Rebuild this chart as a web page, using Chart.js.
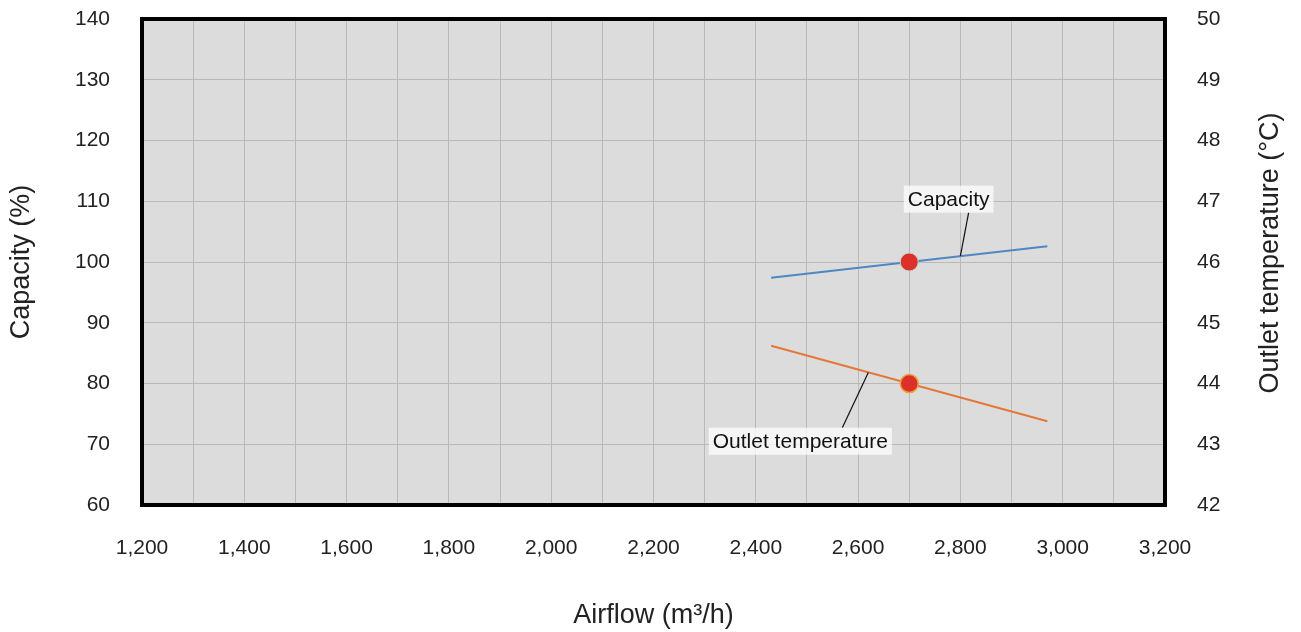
<!DOCTYPE html>
<html>
<head>
<meta charset="utf-8">
<script src="https://cdn.jsdelivr.net/npm/chart.js@4/dist/chart.umd.min.js"></script>
<style>
  html, body { margin: 0; padding: 0; background: #fff; }
  #wrap { width: 1301px; height: 632px; }
</style>
</head>
<body>
<div id="wrap"><canvas id="chart" width="1301" height="632"></canvas></div>
<script>
// values
const airflow = [2430, 2700, 2970];
const capacity = [97.4, 100, 102.6];
const outletTemp = [44.62, 44.0, 43.38];

const opAirflow = 2700;
const opCapacity = 100;
const opTemp = 44.0;

const xTicks = [1200, 1400, 1600, 1800, 2000, 2200, 2400, 2600, 2800, 3000, 3200];

// callout labels: label centre and anchor on the line, in data units
const callouts = [
  { text: "Capacity", axis: "y", lx: 2777, ly: 110.35, ax: 2800, ay: 101.0, dx: 20, edge: "bottom" },
  { text: "Outlet temperature", axis: "y1", lx: 2487, ly: 43.05, ax: 2620, ay: 44.18, dx: 42, edge: "top" },
];

const FONT = "Arial, 'Liberation Sans', sans-serif";
const TEXT = "#222";

const frame = {
  id: "frame",
  beforeDraw(chart) {
    // plot background; grid is drawn on top of it by the scales
    const a = chart.chartArea, c = chart.ctx;
    c.save();
    c.fillStyle = "#dcdcdc";
    c.fillRect(a.left, a.top, a.right - a.left, a.bottom - a.top);
    c.restore();
  },
  afterDraw(chart) {
    const a = chart.chartArea, c = chart.ctx;
    c.save();
    c.strokeStyle = "#000";
    c.lineWidth = 4;
    c.strokeRect(a.left, a.top, a.right - a.left, a.bottom - a.top);

    // right axis title reads bottom-to-top
    c.translate(1271, 253);
    c.rotate(-Math.PI / 2);
    c.font = "27px " + FONT;
    c.fillStyle = TEXT;
    c.textAlign = "center";
    c.textBaseline = "middle";
    c.fillText("Outlet temperature (°C)", 0, 0);
    c.restore();

    // callouts
    const xs = chart.scales.x;
    c.save();
    c.font = "21px " + FONT;
    callouts.forEach(o => {
      const ys = chart.scales[o.axis];
      const cx = xs.getPixelForValue(o.lx), cy = ys.getPixelForValue(o.ly);
      const px = xs.getPixelForValue(o.ax), py = ys.getPixelForValue(o.ay);
      const w = c.measureText(o.text).width + 8, h = 27;
      const sy = o.edge === "bottom" ? cy + h / 2 : cy - h / 2;
      c.strokeStyle = "#111";
      c.lineWidth = 1.2;
      c.beginPath();
      c.moveTo(cx + o.dx, sy);
      c.lineTo(px, py);
      c.stroke();
      c.fillStyle = "rgba(255,255,255,0.72)";
      c.fillRect(cx - w / 2, cy - h / 2, w, h);
      c.fillStyle = "#111";
      c.textAlign = "center";
      c.textBaseline = "middle";
      c.fillText(o.text, cx, cy + 1);
    });
    c.restore();
  }
};

new Chart(document.getElementById("chart"), {
  type: "scatter",
  data: {
    datasets: [
      {
        label: "Capacity point",
        data: [{ x: opAirflow, y: opCapacity }],
        yAxisID: "y",
        backgroundColor: "#dc3128",
        borderColor: "#c9c9c9",
        borderWidth: 1,
        pointRadius: 9,
        order: 0,
      },
      {
        label: "Temperature point",
        data: [{ x: opAirflow, y: opTemp }],
        yAxisID: "y1",
        backgroundColor: "#dc3128",
        borderColor: "#eda23c",
        borderWidth: 1.5,
        pointRadius: 9,
        order: 0,
      },
      {
        label: "Capacity",
        data: airflow.map((x, i) => ({ x, y: capacity[i] })),
        yAxisID: "y",
        showLine: true,
        borderColor: "#4f87c2",
        borderWidth: 2,
        pointRadius: 0,
        order: 1,
      },
      {
        label: "Outlet temperature",
        data: airflow.map((x, i) => ({ x, y: outletTemp[i] })),
        yAxisID: "y1",
        showLine: true,
        borderColor: "#e4783a",
        borderWidth: 2,
        pointRadius: 0,
        order: 1,
      },
    ],
  },
  options: {
    responsive: false,
    animation: false,
    devicePixelRatio: 1,
    layout: { padding: { top: 19, left: 0, right: 0, bottom: 0 } },
    plugins: {
      legend: { display: false },
      tooltip: { enabled: false },
    },
    scales: {
      x: {
        type: "linear",
        min: 1200,
        max: 3200,
        afterFit: s => { s.height = 127; s.paddingLeft = 0; s.paddingRight = 0; },
        afterBuildTicks: s => { s.ticks = []; for (let v = 1200; v <= 3200; v += 100) s.ticks.push({ value: v }); },
        grid: { color: "#b9b9b9", lineWidth: 1, drawTicks: false },
        border: { display: false },
        ticks: {
          padding: 31,
          color: TEXT,
          font: { size: 21, family: FONT },
          maxRotation: 0,
          autoSkip: false,
          callback: v => xTicks.includes(v) ? v.toLocaleString("en-US") : "",
        },
        title: {
          display: true,
          text: "Airflow (m³/h)",
          color: TEXT,
          font: { size: 27, family: FONT },
          padding: { top: 5, bottom: 0 },
        },
      },
      y: {
        position: "left",
        min: 60,
        max: 140,
        afterFit: s => { s.width = 142; s.paddingTop = 0; s.paddingBottom = 0; },
        grid: { color: "#b9b9b9", lineWidth: 1, drawTicks: false },
        border: { display: false },
        ticks: {
          stepSize: 10,
          padding: 32,
          color: TEXT,
          font: { size: 21, family: FONT },
        },
        title: {
          display: true,
          text: "Capacity (%)",
          color: TEXT,
          font: { size: 27, family: FONT },
          padding: { top: 5, bottom: 0 },
        },
      },
      y1: {
        position: "right",
        min: 42,
        max: 50,
        afterFit: s => { s.width = 136; s.paddingTop = 0; s.paddingBottom = 0; },
        grid: { display: false, drawTicks: false },
        border: { display: false },
        ticks: {
          stepSize: 1,
          padding: 32,
          color: TEXT,
          font: { size: 21, family: FONT },
        },
      },
    },
  },
  plugins: [frame],
});
</script>
</body>
</html>
